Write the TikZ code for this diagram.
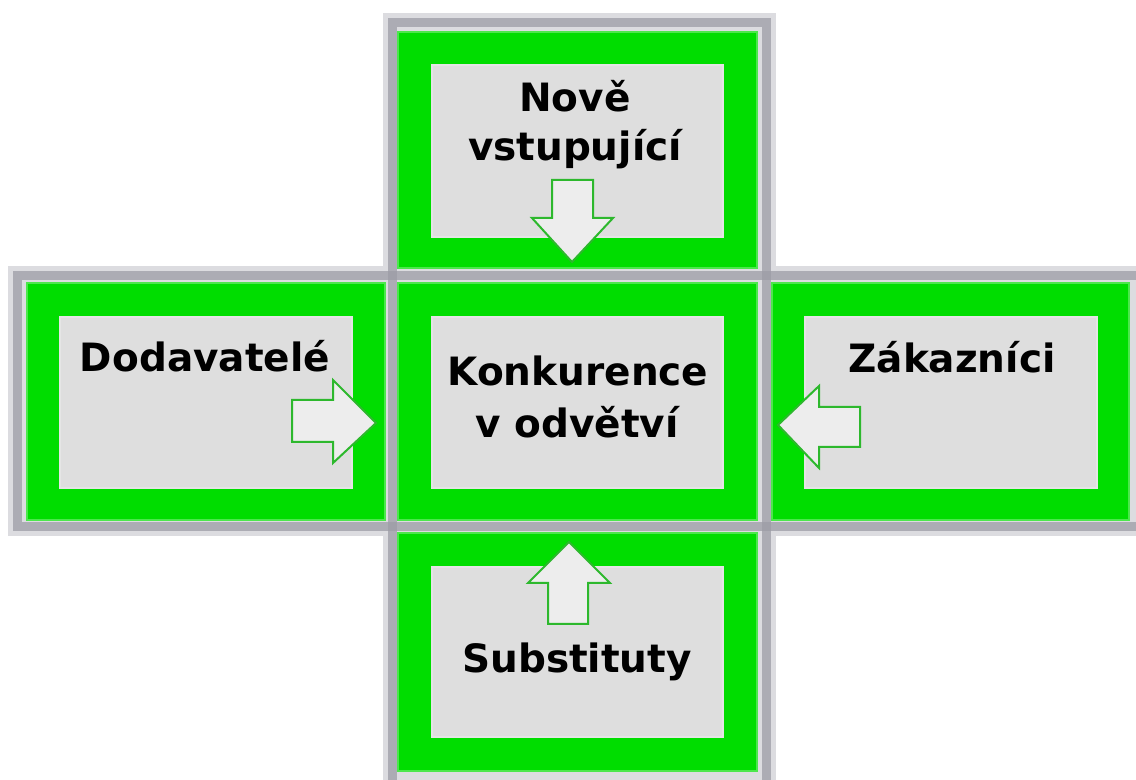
\documentclass[tikz,border=0pt]{standalone}
\usepackage{fontspec}
\setmainfont{DejaVu Sans}
\definecolor{framelight}{HTML}{DCDCE0}
\definecolor{framedark}{HTML}{9C9CA6}
\definecolor{boxgreen}{HTML}{00DD00}
\definecolor{innergray}{HTML}{DEDEDE}
\definecolor{arrowfill}{HTML}{EDEDED}
\definecolor{arrowgreen}{HTML}{2DB82D}
\begin{document}
\begin{tikzpicture}[x=0.5pt,y=-0.5pt,
  halo/.style={draw=framelight,line width=9.5pt},
  frameline/.style={draw=framedark,line width=4.5pt,draw opacity=0.75},
  greenbox/.style={fill=boxgreen,draw=boxgreen!70!white,line width=0.6pt},
  innerbox/.style={fill=innergray,draw=innergray!80!white,line width=0.6pt},
  blockarrow/.style={fill=arrowfill,draw=arrowgreen,line width=1pt,line join=miter},
  lbl/.style={font=\bfseries\fontsize{19.5}{23}\selectfont,anchor=base,inner sep=0pt,text=black}]
\useasboundingbox (0,0) rectangle (1136,780);
% frames (halo)
\path[halo] (392,23) rectangle (766,780);
\path[halo] (17,276) rectangle (1136,527);
% frames (dark lines)
\path[frameline] (392,23) rectangle (766,790);
\path[frameline] (17,276) rectangle (1145,527);
% green boxes
\path[greenbox] (398,32) rectangle (757,268);
\path[greenbox] (398,283) rectangle (757,520);
\path[greenbox] (27,283) rectangle (385,520);
\path[greenbox] (772,283) rectangle (1129,520);
\path[greenbox] (398,533) rectangle (757,771);
% inner boxes
\path[innerbox] (432,65) rectangle (723,237);
\path[innerbox] (432,317) rectangle (723,488);
\path[innerbox] (60,317) rectangle (352,488);
\path[innerbox] (805,317) rectangle (1097,488);
\path[innerbox] (432,567) rectangle (723,737);
% block arrows
\path[blockarrow] (552,180) -- (593,180) -- (593,218) -- (613,218) -- (572,262) -- (532,218) -- (552,218) -- cycle;
\path[blockarrow] (292,400) -- (333,400) -- (333,380) -- (376,423) -- (333,463) -- (333,442) -- (292,442) -- cycle;
\path[blockarrow] (860,407) -- (819,407) -- (819,386) -- (778,425) -- (819,468) -- (819,447) -- (860,447) -- cycle;
\path[blockarrow] (548,624) -- (548,583) -- (528,583) -- (569,542) -- (610,583) -- (588,583) -- (588,624) -- cycle;
% labels
\node[lbl] (nove1) at (575,112) {Nově};
\node[lbl] (nove2) at (575,161) {vstupující};
\node[lbl] (dod) at (205,372) {Dodavatelé};
\node[lbl] (zak) at (952,373) {Zákazníci};
\node[lbl] (kon1) at (578,386) {Konkurence};
\node[lbl] (kon2) at (577,438) {v odvětví};
\node[lbl] (sub) at (577,673) {Substituty};
\end{tikzpicture}
\end{document}
